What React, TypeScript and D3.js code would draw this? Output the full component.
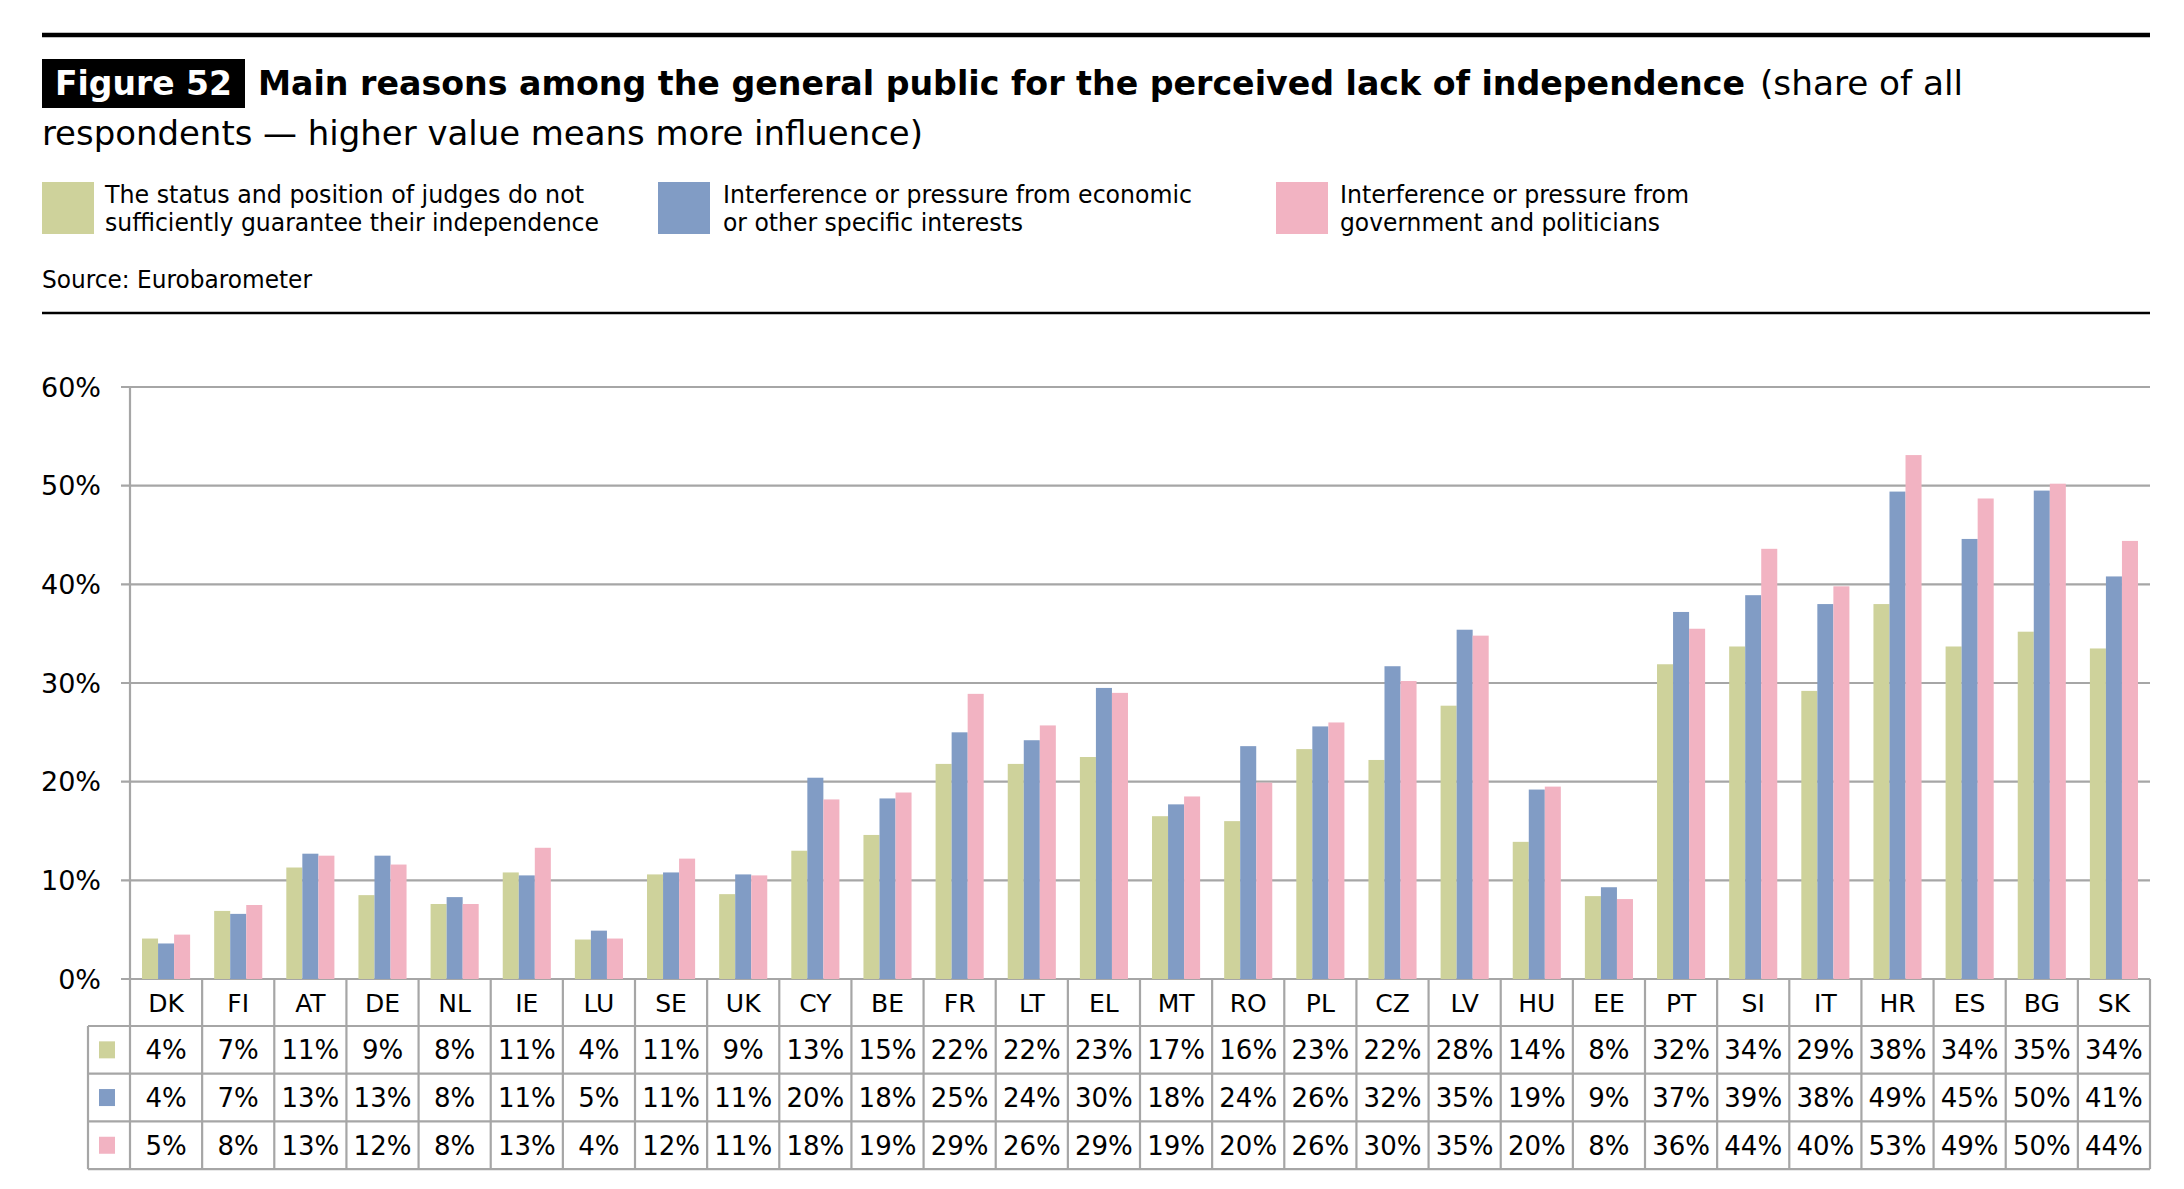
import * as d3 from 'd3';

// Eurobarometer, share of respondents (%)
const countries = ['DK', 'FI', 'AT', 'DE', 'NL', 'IE', 'LU', 'SE', 'UK', 'CY', 'BE', 'FR', 'LT', 'EL', 'MT', 'RO', 'PL', 'CZ', 'LV', 'HU', 'EE', 'PT', 'SI', 'IT', 'HR', 'ES', 'BG', 'SK'];

const statusOfJudges = [4.1, 6.9, 11.3, 8.5, 7.6, 10.8, 4.0, 10.6, 8.6, 13.0, 14.6, 21.8, 21.8, 22.5, 16.5, 16.0, 23.3, 22.2, 27.7, 13.9, 8.4, 31.9, 33.7, 29.2, 38.0, 33.7, 35.2, 33.5];
const economicInterests = [3.6, 6.6, 12.7, 12.5, 8.3, 10.5, 4.9, 10.8, 10.6, 20.4, 18.3, 25.0, 24.2, 29.5, 17.7, 23.6, 25.6, 31.7, 35.4, 19.2, 9.3, 37.2, 38.9, 38.0, 49.4, 44.6, 49.5, 40.8];
const government = [4.5, 7.5, 12.5, 11.6, 7.6, 13.3, 4.1, 12.2, 10.5, 18.2, 18.9, 28.9, 25.7, 29.0, 18.5, 19.9, 26.0, 30.2, 34.8, 19.5, 8.1, 35.5, 43.6, 39.8, 53.1, 48.7, 50.2, 44.4];

const yTicks = [0, 10, 20, 30, 40, 50, 60];

const seriesKeys = ['status', 'economic', 'government'];
const seriesColors = ['#ced29b', '#819cc5', '#f2b3c2'];

const W = 2184;
const H = 1189;
const left = 130;
const right = 2150;
const baseY = 979;
const topY = 387;
const rowH = 47.7;

const grid = '#a6a6a6';
const chartFont = "'DejaVu Sans', Verdana, sans-serif";
const ecFont = "'DejaVu Sans Condensed', 'Liberation Sans Narrow', 'DejaVu Sans', sans-serif";

export default function App() {
  const series = [statusOfJudges, economicInterests, government];

  const x = d3.scaleBand<string>().domain(countries).range([left, right]);
  const x1 = d3.scaleBand<string>().domain(seriesKeys).range([0, x.bandwidth()]).paddingOuter(0.75);
  const y = d3.scaleLinear().domain([0, 60]).range([baseY, topY]);

  const headerBottom = 1026;
  const rowTop = (i: number) => headerBottom + i * rowH;
  const tableBottom = rowTop(3);

  return (
    <svg width={W} height={H} viewBox={`0 0 ${W} ${H}`} style={{ position: 'absolute', left: 0, top: 0, background: '#fff' }}>
      {/* header block */}
      <line x1={42} x2={right} y1={35} y2={35} stroke="#000" strokeWidth={4.5} />
      <rect x={42} y={59} width={203} height={49} fill="#000" />
      <text x={55} y={95} fill="#fff" fontFamily={ecFont} fontWeight="bold" fontSize={33} textLength={177} lengthAdjust="spacingAndGlyphs">Figure 52</text>
      <text x={258} y={95} fontFamily={ecFont} fontWeight="bold" fontSize={33} textLength={1487} lengthAdjust="spacingAndGlyphs">Main reasons among the general public for the perceived lack of independence</text>
      <text x={1760} y={95} fontFamily={ecFont} fontSize={33} textLength={203} lengthAdjust="spacingAndGlyphs">(share of all</text>
      <text x={42} y={145} fontFamily={ecFont} fontSize={33} textLength={881} lengthAdjust="spacingAndGlyphs">respondents — higher value means more influence)</text>

      <rect x={42} y={182} width={52} height={52} fill={seriesColors[0]} />
      <text x={105} y={203} fontFamily={ecFont} fontSize={25} textLength={479} lengthAdjust="spacingAndGlyphs">The status and position of judges do not</text>
      <text x={105} y={231} fontFamily={ecFont} fontSize={25} textLength={494} lengthAdjust="spacingAndGlyphs">sufficiently guarantee their independence</text>

      <rect x={658} y={182} width={52} height={52} fill={seriesColors[1]} />
      <text x={723} y={203} fontFamily={ecFont} fontSize={25} textLength={469} lengthAdjust="spacingAndGlyphs">Interference or pressure from economic</text>
      <text x={723} y={231} fontFamily={ecFont} fontSize={25} textLength={300} lengthAdjust="spacingAndGlyphs">or other specific interests</text>

      <rect x={1276} y={182} width={52} height={52} fill={seriesColors[2]} />
      <text x={1340} y={203} fontFamily={ecFont} fontSize={25} textLength={349} lengthAdjust="spacingAndGlyphs">Interference or pressure from</text>
      <text x={1340} y={231} fontFamily={ecFont} fontSize={25} textLength={320} lengthAdjust="spacingAndGlyphs">government and politicians</text>

      <text x={42} y={288} fontFamily={ecFont} fontSize={25} textLength={270} lengthAdjust="spacingAndGlyphs">Source: Eurobarometer</text>
      <line x1={42} x2={right} y1={313} y2={313} stroke="#000" strokeWidth={2.5} />

      {/* gridlines, ticks and y labels */}
      {yTicks.map((t) => (
        <g key={t}>
          <line x1={121} x2={right} y1={y(t)} y2={y(t)} stroke={grid} strokeWidth={2.2} />
          <text x={101} y={y(t)} dy="0.36em" textAnchor="end" fontFamily={chartFont} fontSize={27}>{`${t}%`}</text>
        </g>
      ))}
      <line x1={left} x2={left} y1={topY} y2={tableBottom} stroke={grid} strokeWidth={2.2} />

      {/* bars */}
      {countries.map((c, i) => (
        <g key={c} transform={`translate(${x(c)},0)`}>
          {seriesKeys.map((k, s) => (
            <rect key={k} x={x1(k)} y={y(series[s][i])} width={x1.bandwidth()} height={baseY - y(series[s][i])} fill={seriesColors[s]} />
          ))}
        </g>
      ))}

      {/* data table */}
      {countries.map((c) => (
        <g key={c}>
          <line x1={(x(c) as number) + x.bandwidth()} x2={(x(c) as number) + x.bandwidth()} y1={baseY} y2={tableBottom} stroke={grid} strokeWidth={2.2} />
          <text x={(x(c) as number) + x.bandwidth() / 2} y={(baseY + headerBottom) / 2} dy="0.36em" textAnchor="middle" fontFamily={chartFont} fontSize={25}>{c}</text>
        </g>
      ))}
      <line x1={88} x2={88} y1={headerBottom} y2={tableBottom} stroke={grid} strokeWidth={2.2} />
      {[0, 1, 2, 3].map((r) => (
        <line key={r} x1={88} x2={right} y1={rowTop(r)} y2={rowTop(r)} stroke={grid} strokeWidth={2.2} />
      ))}
      {series.map((vals, s) => (
        <g key={seriesKeys[s]}>
          <rect x={99} y={rowTop(s) + rowH / 2 - 8.5} width={16} height={17} fill={seriesColors[s]} />
          {vals.map((v, i) => (
            <text key={countries[i]} x={(x(countries[i]) as number) + x.bandwidth() / 2} y={rowTop(s) + rowH / 2} dy="0.36em" textAnchor="middle" fontFamily={chartFont} fontSize={26}>{`${Math.round(v)}%`}</text>
          ))}
        </g>
      ))}
    </svg>
  );
}
